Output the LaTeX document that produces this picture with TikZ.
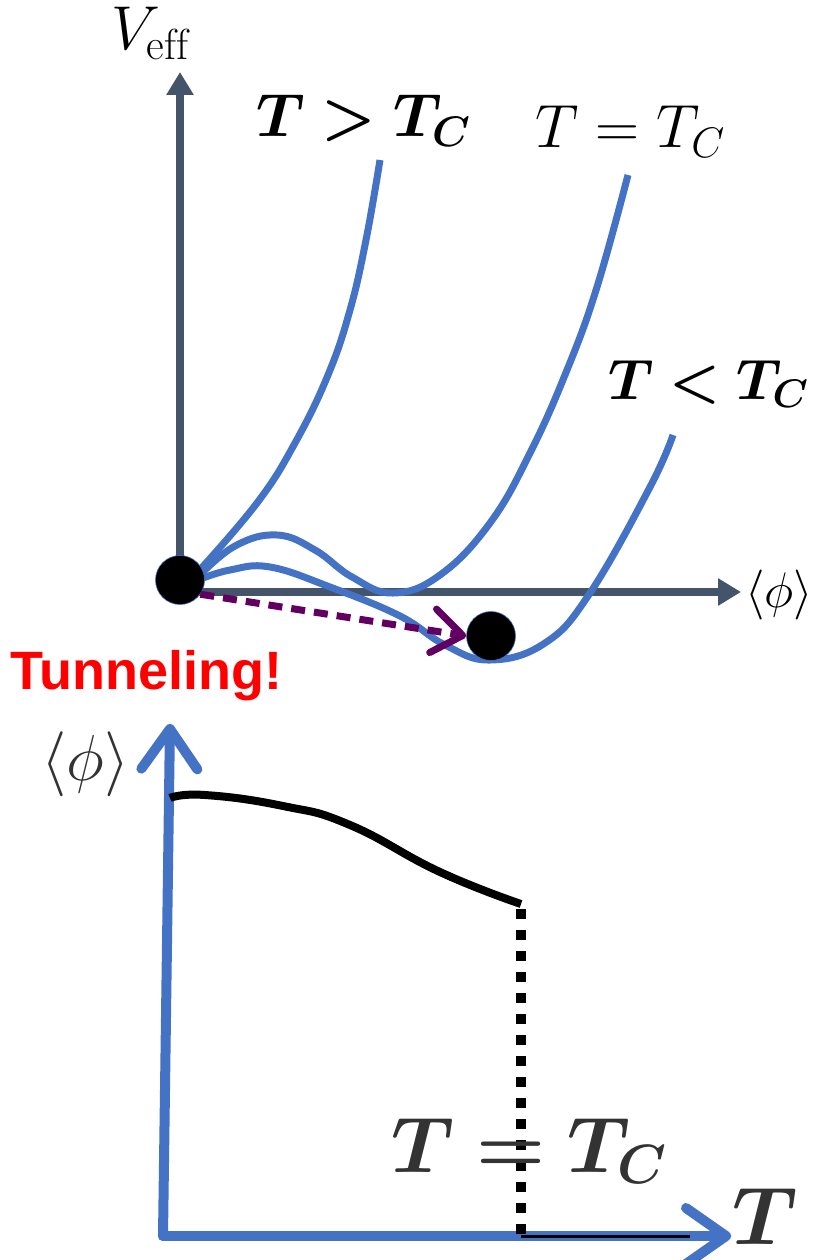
\RequirePackage{fix-cm}
\documentclass[tikz,border=0pt]{standalone}
\usepackage{bm}
\usepackage{fontspec}
\newfontfamily\tunnelfont{Liberation Sans}
\usetikzlibrary{arrows.meta}

\definecolor{axisgray}{HTML}{44546A}
\definecolor{potblue}{HTML}{4472C4}
\definecolor{tunnelpurple}{HTML}{620062}
\definecolor{textgray}{HTML}{333333}

\tikzset{
  axis/.style={draw=axisgray, line width=8pt, -{Triangle[length=23pt,width=26pt]}},
  potential/.style={draw=potblue, line width=7pt},
  ball/.style={circle, fill=black, draw=potblue, line width=0.6pt, minimum size=49pt, inner sep=0pt},
  label/.style={inner sep=0pt},
  bigaxis/.style={draw=potblue, line width=10pt, line cap=round,
    -{Straight Barb[length=40pt,width=56pt,line cap=round,line join=round]}},
}

\begin{document}
\begin{tikzpicture}[x=1pt,y=-1pt]
  \useasboundingbox (0,0) rectangle (823,1260);

  % Coordinates
  \coordinate (O) at (180,592);
  \coordinate (Vtop) at (180,72);
  \coordinate (Xtip) at (741,592);
  \coordinate (P) at (163,1236);
  \coordinate (Ptop) at (170,724);
  \coordinate (Ttip) at (731,1236);
  \coordinate (C) at (521,909);
  \coordinate (Cbot) at (521,1236);
  \coordinate (Cend) at (690,1236);

  % Drawing
  \draw[axis] (O) -- (Vtop);
  \draw[axis] (O) -- (Xtip);

  % potentials
  \draw[potential] plot[smooth,tension=0.7] coordinates
    {(197,573) (257,503) (295,443) (328,375) (350,310) (366,240) (380,160)};
  \draw[potential] plot[smooth,tension=0.7] coordinates
    {(198,577) (235,546) (277,535) (315,550) (352,577) (393,593) (440,575) (490,523) (530,453) (567,370) (597,287) (628,175)};
  \draw[potential] plot[smooth,tension=0.7] coordinates
    {(198,580) (230,570) (270,567) (330,587) (400,616) (445,645) (490,660) (545,643) (590,593) (650,487) (673,435)};

  \node[ball] (false) at (180,580) {};
  \node[ball] (true) at (491,636) {};
  \draw[tunnelpurple, line width=7pt, dash pattern=on 14pt off 9pt,
    -{Straight Barb[length=30pt,width=44pt,line cap=round,line join=round]}]
    (false.-35) -- (true.west);

  % labels
  \node[label, anchor=base west] (veff) at (111,50)
    {\fontsize{62}{62}\selectfont $V_{\mathrm{eff}}$};
  \node[label, anchor=base west] (high) at (256,137)
    {\fontsize{61}{61}\selectfont $\bm{T > T_C}$};
  \node[label, anchor=base west] (crit) at (535,148)
    {\fontsize{61}{61}\selectfont $T = T_C$};
  \node[label, anchor=base west] (low) at (608,399)
    {\fontsize{57}{57}\selectfont $\bm{T < T_C}$};
  \node[label, anchor=west] (phix) at (745,595)
    {\fontsize{50}{50}\selectfont $\langle\phi\rangle$};
  \node[label, anchor=base west, text=red] (tunnel) at (10,689)
    {\fontsize{54}{54}\selectfont\tunnelfont\bfseries Tunneling!};

  % order parameter
  \draw[bigaxis] (P) -- (Ptop);
  \draw[bigaxis] (P) -- (Ttip);
  \draw[black, line width=8pt] plot[smooth,tension=0.8] coordinates
    {(170,798) (205,795) (283,806) (350,825) (440,872) (521,904)};
  \draw[black, line width=10pt, dash pattern=on 10pt off 11pt] (C) -- (Cbot);
  \draw[black, line width=3pt] (Cbot) -- (Cend);

  \node[label, anchor=west, text=textgray] (phiy) at (41,764)
    {\fontsize{65}{65}\selectfont $\langle\phi\rangle$};
  \node[label, anchor=base west, text=textgray] (tc) at (391,1172)
    {\fontsize{79}{79}\selectfont $\bm{T = T_C}$};
  \node[label, anchor=base west, text=textgray] (temp) at (732,1244)
    {\fontsize{82}{82}\selectfont $\bm{T}$};
\end{tikzpicture}
\end{document}
